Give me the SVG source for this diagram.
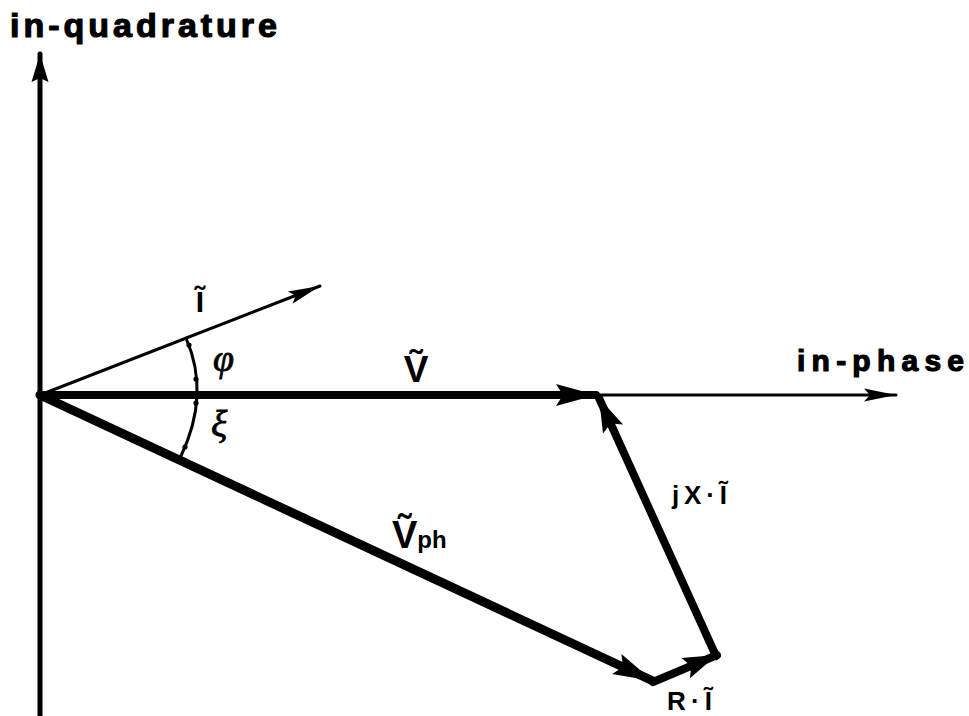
<svg xmlns="http://www.w3.org/2000/svg" width="969" height="716" viewBox="0 0 969 716">
<style>
.lbl{font-family:"Liberation Sans","DejaVu Sans",sans-serif;font-weight:bold;fill:#000}
.axl{stroke:#000;stroke-width:1.2;stroke-linejoin:round}
.greek{font-family:"Liberation Serif","DejaVu Serif",serif;font-style:italic;fill:#000;stroke:#000;stroke-width:0.8}
.vec{stroke:#000;fill:none;stroke-linecap:round}
</style>
<defs>
<marker id="ahBig" markerUnits="userSpaceOnUse" viewBox="-42 -13 44 26" refX="0" refY="0" markerWidth="44" markerHeight="26" orient="auto">
<path d="M0,0 L-40,-11 L-33,0 L-40,11 Z" fill="#000"/>
</marker>
<marker id="ahMid" markerUnits="userSpaceOnUse" viewBox="-36 -13 38 26" refX="0" refY="0" markerWidth="38" markerHeight="26" orient="auto">
<path d="M0,0 L-34,-11 L-28,0 L-34,11 Z" fill="#000"/>
</marker>
<marker id="ahThin" markerUnits="userSpaceOnUse" viewBox="-34 -8 36 16" refX="0" refY="0" markerWidth="36" markerHeight="16" orient="auto">
<path d="M0,0 L-32,-6.5 L-26,0 L-32,6.5 Z" fill="#000"/>
</marker>
<marker id="ahAxisV" markerUnits="userSpaceOnUse" viewBox="-30 -10 32 20" refX="0" refY="0" markerWidth="32" markerHeight="20" orient="auto">
<path d="M0,0 L-28,-8.5 L-24,0 L-28,8.5 Z" fill="#000"/>
</marker>
</defs>

<g id="connectors">
<line id="axis-quadrature" class="vec" x1="40" y1="716" x2="40" y2="54" stroke-width="5" marker-end="url(#ahAxisV)"/>
<line id="axis-phase" class="vec" x1="40" y1="395" x2="896" y2="395" stroke-width="3" marker-end="url(#ahThin)"/>
<line id="vec-I" class="vec" x1="40" y1="395" x2="320" y2="286" stroke-width="3" marker-end="url(#ahThin)"/>
<line id="vec-V" class="vec" x1="40" y1="395" x2="596" y2="395" stroke-width="8" marker-end="url(#ahBig)"/>
<line id="vec-Vph" class="vec" x1="40" y1="395" x2="653" y2="681" stroke-width="9" marker-end="url(#ahBig)"/>
<line id="vec-RI" class="vec" x1="653" y1="682" x2="717" y2="655" stroke-width="8" marker-end="url(#ahMid)"/>
<line id="vec-jXI" class="vec" x1="716" y1="656" x2="599" y2="398" stroke-width="8" marker-end="url(#ahMid)"/>
<path id="angle-arc" class="vec" d="M186,338 Q210.5,394 181,456" stroke-width="3"/>
<circle cx="189" cy="345" r="2.6" fill="#000"/>
<circle cx="196" cy="379" r="2.6" fill="#000"/>
<circle cx="196" cy="403" r="2.6" fill="#000"/>
<circle cx="185" cy="447" r="2.6" fill="#000"/>
</g>

<g id="label-in-quadrature">
<text class="lbl axl" x="10" y="37" font-size="34" textLength="267" lengthAdjust="spacing">in-quadrature</text>
</g>
<g id="label-in-phase">
<text class="lbl axl" x="797" y="371" font-size="30" textLength="167" lengthAdjust="spacing">in-phase</text>
</g>
<g id="label-I">
<text class="lbl" x="200" y="312" font-size="30" text-anchor="middle">Ĩ</text>
</g>
<g id="label-phi">
<text class="greek" x="213" y="371" font-size="38">φ</text>
</g>
<g id="label-xi">
<text class="greek" x="211" y="437" font-size="38">ξ</text>
</g>
<g id="label-V">
<text class="lbl" x="416" y="382" font-size="37" text-anchor="middle">Ṽ</text>
</g>
<g id="label-Vph">
<text class="lbl" x="392" y="548" font-size="38">Ṽ<tspan font-size="24">ph</tspan></text>
</g>
<g id="label-jXI">
<text class="lbl" x="672" y="504" font-size="26" textLength="55" lengthAdjust="spacing">jX·Ĩ</text>
</g>
<g id="label-RI">
<text class="lbl" x="667" y="710" font-size="26" textLength="45" lengthAdjust="spacing">R·Ĩ</text>
</g>
</svg>
